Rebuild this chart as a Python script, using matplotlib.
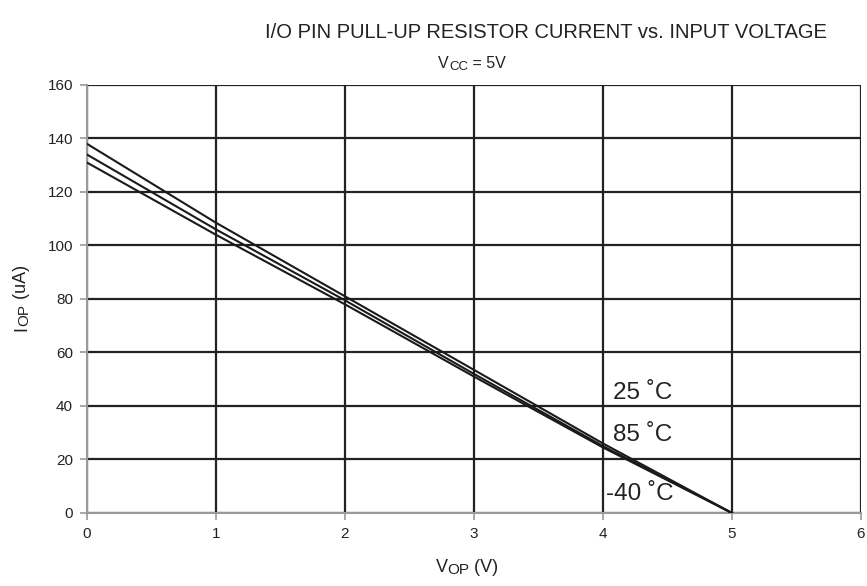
import matplotlib.pyplot as plt
import numpy as np

plt.rcParams['font.family'] = ['Liberation Sans', 'DejaVu Sans']

# pull-up current vs. pin voltage, Vcc = 5V
v_op = [0, 1, 2, 3, 4, 5]
i_25c = [138, 108.5, 81, 53.5, 26, 0]
i_85c = [134, 106, 79.5, 52, 25, 0]
i_m40c = [131, 104, 78, 51, 24.5, 0]

temp_labels = ['25 \u02daC', '85 \u02daC', '-40 \u02daC']
label_x = [4.08, 4.08, 4.02]
label_y = [45, 29, 7]

INK = '#222222'


def pieced_label(fig, cx, cy, pieces, vertical=False):
    """Write a label out of (text, size, drop) pieces, centred on cx/cy pixels."""
    r = fig.canvas.get_renderer()
    W, H = fig.bbox.width, fig.bbox.height
    texts, lengths = [], []
    for s, size, drop in pieces:
        t = fig.text(0, 0, s, fontsize=size, color=INK, ha='left', va='baseline',
                     rotation=90 if vertical else 0, rotation_mode='anchor')
        ext = t.get_window_extent(r)
        texts.append(t)
        lengths.append(ext.height if vertical else ext.width)
    pos = -sum(lengths) / 2
    for t, ln, (s, size, drop) in zip(texts, lengths, pieces):
        d = drop * fig.dpi / 72
        if vertical:
            t.set_position(((cx + d) / W, (cy + pos) / H))
        else:
            t.set_position(((cx + pos) / W, (cy - d) / H))
        pos += ln


fig = plt.figure(figsize=(8.67, 5.86), dpi=100)
ax = fig.add_axes([0.1003, 0.1246, 0.8927, 0.7304])

for curve in (i_25c, i_85c, i_m40c):
    ax.plot(v_op, curve, color='#1a1a1a', linewidth=1.5, zorder=3)

for txt, x, y in zip(temp_labels, label_x, label_y):
    ax.text(x, y, txt, fontsize=17.5, color=INK, va='center', ha='left', zorder=4)

ax.set_xlim(0, 6)
ax.set_ylim(0, 160)
ax.set_xticks(np.arange(0, 7, 1))
ax.set_yticks(np.arange(0, 161, 20))
ax.grid(True, color=INK, linewidth=1.6, zorder=1)
ax.set_axisbelow(True)

for side in ('top', 'right'):
    ax.spines[side].set_visible(False)
for side in ('left', 'bottom'):
    ax.spines[side].set_color('#999999')
    ax.spines[side].set_linewidth(1.5)
ax.tick_params(direction='out', length=5, width=1.2, color='#999999',
               labelsize=11, labelcolor=INK, pad=5)

fig.text(0.63, 0.945, 'I/O PIN PULL-UP RESISTOR CURRENT vs. INPUT VOLTAGE',
         fontsize=14.5, color=INK, ha='center', va='center')

pieced_label(fig, 472, 518, [('V', 11.5, 0), ('CC', 9.5, 1.2), (' = 5V', 11.5, 0)])
pieced_label(fig, 467, 14, [('V', 13, 0), ('OP', 11, 1.5), (' (V)', 13, 0)])
pieced_label(fig, 26, 288, [('I', 13, 0), ('OP', 11, 1.5), (' (uA)', 13, 0)],
             vertical=True)

fig.savefig('out.png', dpi=100)
